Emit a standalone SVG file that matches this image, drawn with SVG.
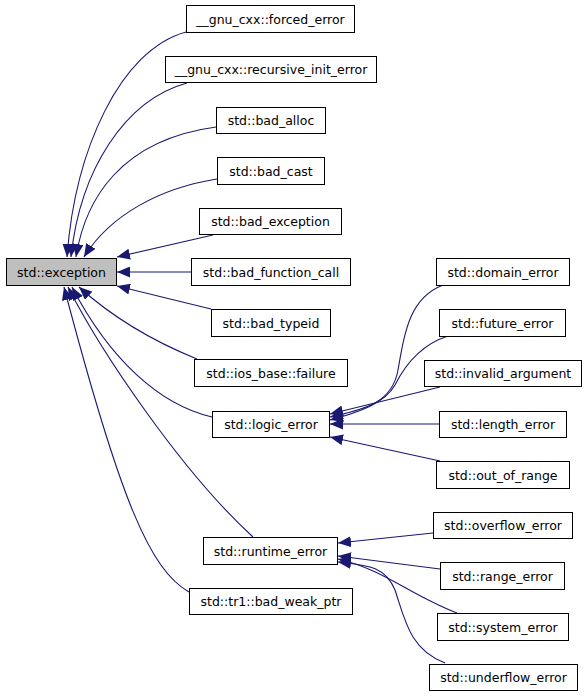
<svg xmlns="http://www.w3.org/2000/svg" width="587" height="696" viewBox="0 0 587 696">
<style>
.n rect{fill:#ffffff;stroke:#000000;stroke-width:1}
.n text{font-family:"DejaVu Sans",sans-serif;font-size:12.5px;fill:#000000;text-anchor:middle}
#n0 rect{fill:#bfbfbf}
.e path{fill:none;stroke:#191970;stroke-width:1.1;marker-end:url(#a)}
</style>
<defs>
<marker id="a" markerUnits="userSpaceOnUse" markerWidth="13" markerHeight="11" refX="13" refY="5.5" orient="auto" viewBox="0 0 13 11">
<path d="M0,0 L13,5.5 L0,11 z" fill="#191970"/>
</marker>
</defs>
<rect width="587" height="696" fill="#ffffff"/>
<g id="edges" class="e">
<path d="M186,32 C120,50 75,150 67,257"/>
<path d="M187,83 C125,100 80,170 71,257"/>
<path d="M216,127 C120,140 85,200 76,257"/>
<path d="M217,179 C160,188 110,215 84,257"/>
<path d="M213,235 L117,257"/>
<path d="M191,272 L117,272"/>
<path d="M211,309 L117,286"/>
<path d="M197,359 C150,340 110,315 79,287"/>
<path d="M212,417 C160,405 110,360 72,287"/>
<path d="M253,537 C180,470 100,350 68,287"/>
<path d="M189,592 C150,570 120,500 64,287"/>
<path d="M443,285 C410,298 405,330 398,370 C392,405 360,410 330,417"/>
<path d="M448,336 C420,345 405,365 395,385 C385,403 360,412 330,420"/>
<path d="M440,387 L330,414"/>
<path d="M439,424 L330,424"/>
<path d="M440,461 L330,437"/>
<path d="M433,533 L338,543"/>
<path d="M440,569 L338,556"/>
<path d="M457,613 C410,595 385,570 338,559"/>
<path d="M445,663 C410,650 405,620 395,590 C385,565 365,565 338,562"/>
</g>
<g id="n0" class="n"><rect x="6.5" y="258.5" width="110" height="27"/><text x="61.5" y="276.5">std::exception</text></g>
<g id="n1" class="n"><rect x="186.5" y="5.5" width="168" height="27"/><text x="270.5" y="23.5">__gnu_cxx::forced_error</text></g>
<g id="n2" class="n"><rect x="165.5" y="56.5" width="211" height="26"/><text x="271" y="74">__gnu_cxx::recursive_init_error</text></g>
<g id="n3" class="n"><rect x="216.5" y="107.5" width="109" height="26"/><text x="271" y="125">std::bad_alloc</text></g>
<g id="n4" class="n"><rect x="217.5" y="157.5" width="107" height="27"/><text x="271" y="175.5">std::bad_cast</text></g>
<g id="n5" class="n"><rect x="199.5" y="208.5" width="142" height="26"/><text x="270.5" y="226">std::bad_exception</text></g>
<g id="n6" class="n"><rect x="191.5" y="258.5" width="159" height="27"/><text x="271" y="276.5">std::bad_function_call</text></g>
<g id="n7" class="n"><rect x="211.5" y="309.5" width="119" height="27"/><text x="271" y="327.5">std::bad_typeid</text></g>
<g id="n8" class="n"><rect x="194.5" y="359.5" width="153" height="27"/><text x="271" y="377.5">std::ios_base::failure</text></g>
<g id="n9" class="n"><rect x="212.5" y="411.5" width="117" height="26"/><text x="271" y="429">std::logic_error</text></g>
<g id="n10" class="n"><rect x="203.5" y="537.5" width="134" height="27"/><text x="270.5" y="555.5">std::runtime_error</text></g>
<g id="n11" class="n"><rect x="189.5" y="588.5" width="163" height="26"/><text x="271" y="606">std::tr1::bad_weak_ptr</text></g>
<g id="n12" class="n"><rect x="436.5" y="258.5" width="133" height="27"/><text x="503" y="276.5">std::domain_error</text></g>
<g id="n13" class="n"><rect x="439.5" y="309.5" width="126" height="27"/><text x="502.5" y="327.5">std::future_error</text></g>
<g id="n14" class="n"><rect x="424.5" y="360.5" width="157" height="26"/><text x="503" y="378">std::invalid_argument</text></g>
<g id="n15" class="n"><rect x="439.5" y="411.5" width="127" height="26"/><text x="503" y="429">std::length_error</text></g>
<g id="n16" class="n"><rect x="436.5" y="461.5" width="133" height="27"/><text x="503" y="479.5">std::out_of_range</text></g>
<g id="n17" class="n"><rect x="433.5" y="512.5" width="139" height="26"/><text x="503" y="530">std::overflow_error</text></g>
<g id="n18" class="n"><rect x="440.5" y="562.5" width="124" height="27"/><text x="502.5" y="580.5">std::range_error</text></g>
<g id="n19" class="n"><rect x="437.5" y="613.5" width="131" height="27"/><text x="503" y="631.5">std::system_error</text></g>
<g id="n20" class="n"><rect x="429.5" y="664.5" width="148" height="26"/><text x="503.5" y="682">std::underflow_error</text></g>
</svg>
